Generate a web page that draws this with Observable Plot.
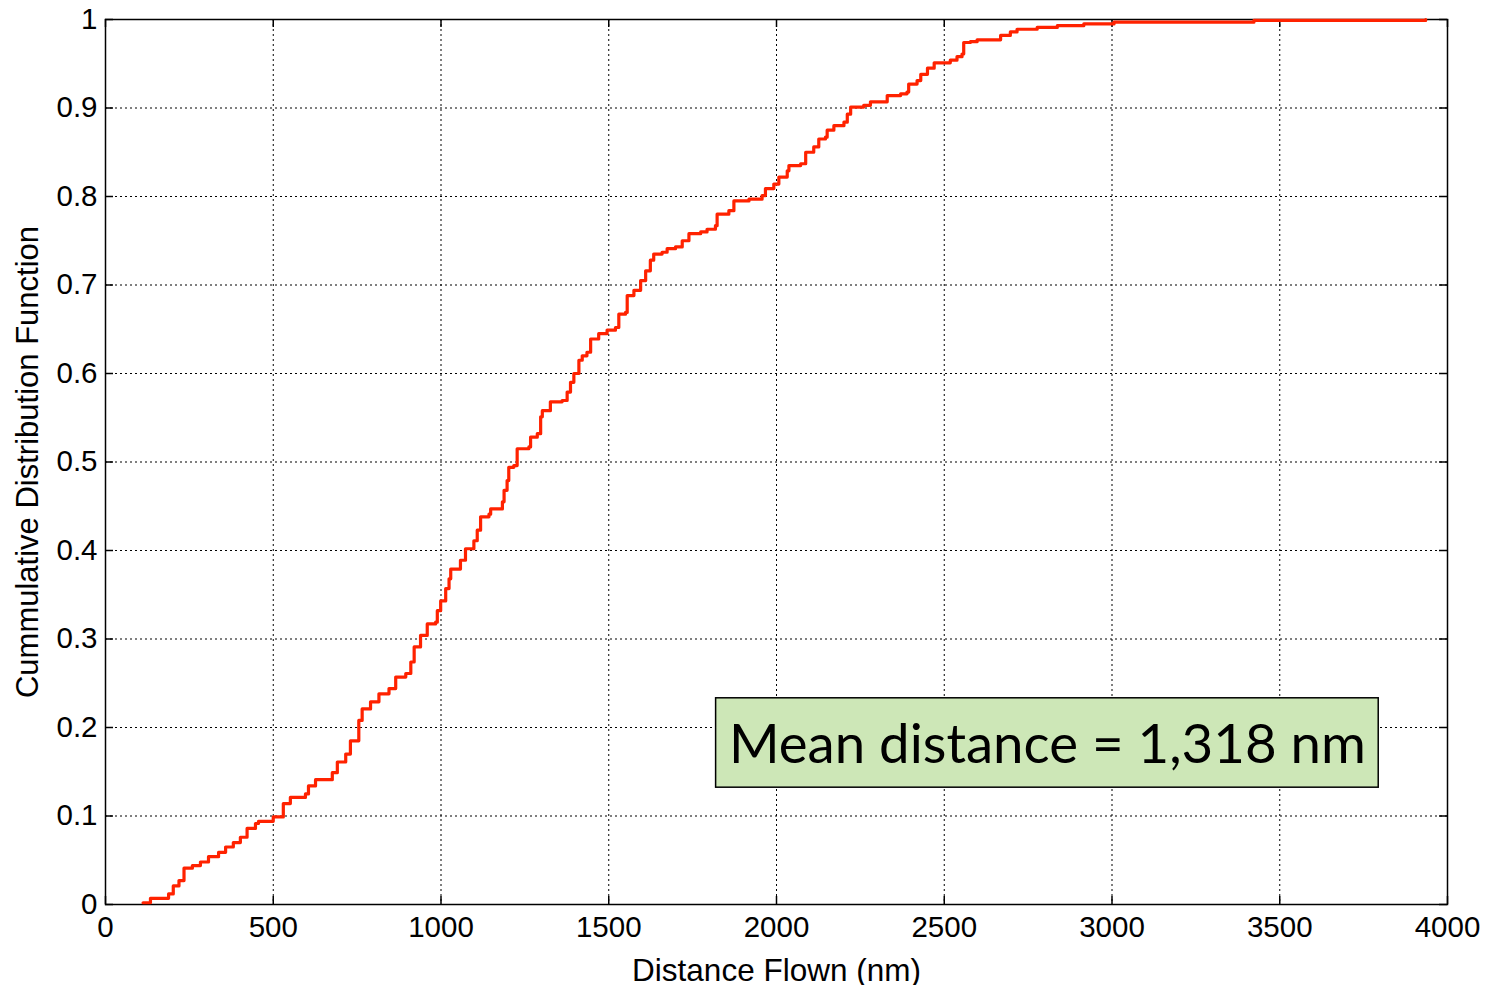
<!DOCTYPE html>
<html>
<head>
<meta charset="utf-8">
<script src="https://cdn.jsdelivr.net/npm/d3@7"></script>
<script src="https://cdn.jsdelivr.net/npm/@observablehq/plot@0.6"></script>
<style>
  html, body { margin: 0; padding: 0; background: #fff; }
</style>
</head>
<body>
<div id="chart"></div>
<script>
// Step positions of the empirical CDF (distance in nm) and the level reached there
const distance = [
  112, 134, 188, 202, 219, 234, 259, 283, 307, 337, 358, 381, 402, 422, 447, 456,
  500, 530, 551, 596, 605, 626, 676, 691, 716, 730, 755, 765, 790, 815, 845, 865,
  895, 910, 920, 939, 959, 984, 989, 999, 1014, 1024, 1029, 1058, 1073, 1098, 1108,
  1118, 1143, 1148, 1183, 1188, 1197, 1202, 1217, 1227, 1262, 1267, 1287, 1297, 1302,
  1326, 1361, 1376, 1386, 1396, 1411, 1421, 1435, 1446, 1470, 1495, 1520, 1530, 1550,
  1555, 1575, 1595, 1610, 1624, 1634, 1659, 1674, 1699, 1719, 1739, 1774, 1793, 1818,
  1823, 1858, 1873, 1918, 1957, 1967, 1992, 2007, 2032, 2037, 2072, 2087, 2111, 2126,
  2146, 2151, 2171, 2201, 2211, 2221, 2260, 2280, 2330, 2370, 2389, 2394, 2419, 2430,
  2450, 2470, 2518, 2538, 2553, 2558, 2578, 2598, 2668, 2697, 2717, 2777, 2837, 2916,
  3006, 3423, 3935
];
const cdf = [
  0.002, 0.007, 0.012, 0.021, 0.027, 0.041, 0.044, 0.048, 0.054, 0.059, 0.065, 0.070, 0.076, 0.086, 0.0915, 0.094,
  0.099, 0.114, 0.121, 0.125, 0.134, 0.141, 0.149, 0.161, 0.170, 0.185, 0.208, 0.221, 0.229, 0.238, 0.244, 0.257,
  0.261, 0.274, 0.291, 0.304, 0.317, 0.319, 0.332, 0.343, 0.357, 0.368, 0.379, 0.389, 0.402, 0.411, 0.423,
  0.438, 0.441, 0.447, 0.455, 0.468, 0.479, 0.494, 0.496, 0.515, 0.517, 0.528, 0.532, 0.551, 0.558,
  0.568, 0.5695, 0.579, 0.590, 0.600, 0.615, 0.620, 0.624, 0.639, 0.645, 0.649, 0.652, 0.667, 0.669,
  0.688, 0.694, 0.705, 0.716, 0.728, 0.735, 0.737, 0.741, 0.743, 0.750, 0.758, 0.760, 0.763, 0.767,
  0.780, 0.784, 0.795, 0.797, 0.801, 0.809, 0.814, 0.822, 0.829, 0.835, 0.837, 0.850, 0.856, 0.865,
  0.867, 0.875, 0.880, 0.884, 0.893, 0.901, 0.903, 0.907, 0.914, 0.916, 0.918, 0.927, 0.931, 0.938,
  0.945, 0.951, 0.954, 0.958, 0.961, 0.974, 0.975, 0.977, 0.982, 0.986, 0.989, 0.991, 0.993, 0.995,
  0.997, 0.999, 1.0
];
const xTicks = [0, 500, 1000, 1500, 2000, 2500, 3000, 3500, 4000];
const yTicks = [0, 0.1, 0.2, 0.3, 0.4, 0.5, 0.6, 0.7, 0.8, 0.9, 1];
const xLabel = "Distance Flown (nm)";
const yLabel = "Cummulative Distribution Function";
const annotationText = "Mean distance = 1,318 nm";
// annotation box extent in data units
const annotationX = [1820, 3795];
const annotationY = [0.132, 0.233];

const data = distance.map((d, i) => ({x: d, y: cdf[i]}));
const ann = [{x1: annotationX[0], x2: annotationX[1], y1: annotationY[0], y2: annotationY[1],
  xm: (annotationX[0] + annotationX[1]) / 2, ym: (annotationY[0] + annotationY[1]) / 2, text: annotationText}];

const W = 1490, H = 985, mL = 105, mR = 43, mT = 19, mB = 81;
const innerW = W - mL - mR, innerH = H - mT - mB;
const tickLen = 8;
const font = "'Liberation Sans', Arial, Helvetica, sans-serif";

const chart = Plot.plot({
  width: W, height: H,
  marginLeft: mL, marginRight: mR, marginTop: mT, marginBottom: mB,
  style: {fontFamily: font, background: "white", color: "black", overflow: "visible"},
  x: {domain: [0, 4000]},
  y: {domain: [0, 1]},
  marks: [
    Plot.ruleX(xTicks, {x: d => d, stroke: "#000", strokeWidth: 1, strokeDasharray: "2,3"}),
    Plot.ruleY(yTicks, {y: d => d, stroke: "#000", strokeWidth: 1, strokeDasharray: "2,3"}),
    Plot.tickX(xTicks, {x: d => d, stroke: "#000", strokeWidth: 1.5, insetTop: innerH - tickLen}),
    Plot.tickX(xTicks, {x: d => d, stroke: "#000", strokeWidth: 1.5, insetBottom: innerH - tickLen}),
    Plot.tickY(yTicks, {y: d => d, stroke: "#000", strokeWidth: 1.5, insetRight: innerW - tickLen}),
    Plot.tickY(yTicks, {y: d => d, stroke: "#000", strokeWidth: 1.5, insetLeft: innerW - tickLen}),
    Plot.frame({stroke: "#000", strokeWidth: 1.5}),
    Plot.line(data, {x: "x", y: "y", curve: "step-after", stroke: "#ff2200", strokeWidth: 3.2}),
    Plot.rect(ann, {x1: "x1", x2: "x2", y1: "y1", y2: "y2", fill: "#cde7b7", stroke: "#000", strokeWidth: 1.5}),
    Plot.text(ann, {x: "xm", y: "ym", dy: 3, text: "text", fontSize: 54, fill: "#000",
      fontFamily: "'Lato', 'Open Sans', sans-serif", textAnchor: "middle", className: "annot"}),
    Plot.axisX({ticks: xTicks, tickSize: 0, tickPadding: 12, fontSize: 29.5, tickFormat: d => String(d),
      label: null}),
    Plot.axisY({ticks: yTicks, tickSize: 0, tickPadding: 8, fontSize: 29.5, tickFormat: d => String(+d.toFixed(1)),
      label: null}),
    Plot.text([xLabel], {frameAnchor: "bottom", dy: 76, text: d => d, fontSize: 31.5, fill: "#000", lineAnchor: "bottom"}),
    Plot.text([yLabel], {frameAnchor: "left", dx: -77, rotate: -90, textAnchor: "middle", text: d => d, fontSize: 31, fill: "#000"})
  ]
});
document.getElementById("chart").appendChild(chart);
// fit the annotation text to the width it occupies in the box
d3.select(chart).selectAll("g.annot text").attr("textLength", 637).attr("lengthAdjust", "spacingAndGlyphs");
</script>
</body>
</html>
